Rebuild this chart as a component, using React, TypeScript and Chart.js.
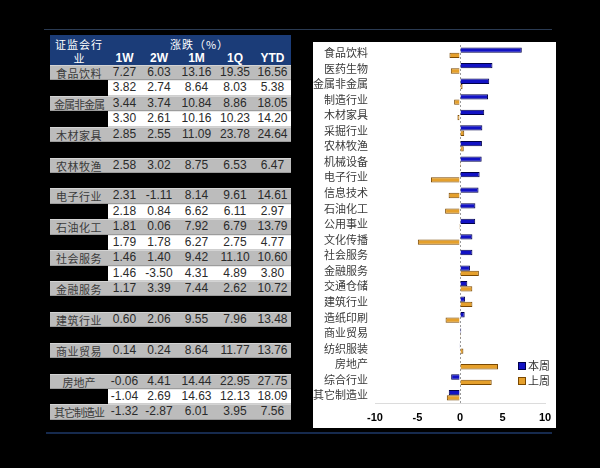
import React, { useEffect, useRef } from 'react';
import { Chart, registerables } from 'chart.js';

Chart.register(...registerables);

// ---- chart data ----
const categories = ['食品饮料', '医药生物', '金属非金属', '制造行业', '木材家具', '采掘行业', '农林牧渔', '机械设备', '电子行业', '信息技术', '石油化工', '公用事业', '文化传播', '社会服务', '金融服务', '交通仓储', '建筑行业', '造纸印刷', '商业贸易', '纺织服装', '房地产', '综合行业', '其它制造业'];
const thisWeek = [7.27, 3.82, 3.44, 3.30, 2.85, 2.63, 2.58, 2.55, 2.31, 2.18, 1.81, 1.79, 1.46, 1.46, 1.17, 0.86, 0.60, 0.55, 0.14, -0.03, -0.06, -1.04, -1.32];
const lastWeek = [-1.24, -1.08, 0.30, -0.69, -0.30, 0.50, 0.44, 0.12, -3.42, -1.34, -1.75, -0.01, -4.96, -0.06, 2.22, 1.45, 1.46, -1.70, 0.10, 0.40, 4.47, 3.73, -1.55];
const seriesNames = ['本周', '上周'];
const xTicks = [-10, -5, 0, 5, 10];

// ---- table data ----
const tableHeaderLabel = ['证监会行', '业'];
const tableHeaderGroup = '涨跌（%）';
const tableColumns = ['1W', '2W', '1M', '1Q', 'YTD'];
// row kinds: 'g' = gray row with label, 'w' = white row with hidden label, 'x' = hidden row
const rowKinds = ['g', 'w', 'g', 'w', 'g', 'x', 'g', 'x', 'g', 'w', 'g', 'w', 'g', 'w', 'g', 'x', 'g', 'x', 'g', 'x', 'g', 'w', 'g'];
const rowLabels = ['食品饮料', '', '金属非金属', '', '木材家具', '', '农林牧渔', '', '电子行业', '', '石油化工', '', '社会服务', '', '金融服务', '', '建筑行业', '', '商业贸易', '', '房地产', '', '其它制造业'];
const col1W = [7.27, 3.82, 3.44, 3.30, 2.85, null, 2.58, null, 2.31, 2.18, 1.81, 1.79, 1.46, 1.46, 1.17, null, 0.60, null, 0.14, null, -0.06, -1.04, -1.32];
const col2W = [6.03, 2.74, 3.74, 2.61, 2.55, null, 3.02, null, -1.11, 0.84, 0.06, 1.78, 1.40, -3.50, 3.39, null, 2.06, null, 0.24, null, 4.41, 2.69, -2.87];
const col1M = [13.16, 8.64, 10.84, 10.16, 11.09, null, 8.75, null, 8.14, 6.62, 7.92, 6.27, 9.42, 4.31, 7.44, null, 9.55, null, 8.64, null, 14.44, 14.63, 6.01];
const col1Q = [19.35, 8.03, 8.86, 10.23, 23.78, null, 6.53, null, 9.61, 6.11, 6.79, 2.75, 11.10, 4.89, 2.62, null, 7.96, null, 11.77, null, 22.95, 12.13, 3.95];
const colYTD = [16.56, 5.38, 18.05, 14.20, 24.64, null, 6.47, null, 14.61, 2.97, 13.79, 4.77, 10.60, 3.80, 10.72, null, 13.48, null, 13.76, null, 27.75, 18.09, 7.56];

const colBounds = [50, 108, 141, 177, 216, 254, 291];
const ROW_TOP = 65;
const ROW_H = 15.43;

const cjk = '"Noto Sans CJK SC", "Noto Sans", sans-serif';
const latin = '"Liberation Sans", Arial, sans-serif';

const legendPlugin = {
  id: 'customLegend',
  afterDraw(chart: any) {
    const { ctx, chartArea } = chart;
    chart.data.datasets.forEach((ds: any, i: number) => {
      const cx = chartArea.right - 23;
      const cy = chartArea.bottom - 37 + i * 15;
      ctx.save();
      ctx.fillStyle = ds.backgroundColor;
      ctx.strokeStyle = ds.borderColor;
      ctx.lineWidth = 1;
      ctx.fillRect(cx - 3.5, cy - 3.5, 7, 7);
      ctx.strokeRect(cx - 3.5, cy - 3.5, 7, 7);
      ctx.fillStyle = '#333';
      ctx.font = '11px ' + cjk;
      ctx.textBaseline = 'middle';
      ctx.textAlign = 'left';
      ctx.fillText(ds.label, cx + 6, cy);
      ctx.restore();
    });
  },
};

function BarChart() {
  const ref = useRef<HTMLCanvasElement | null>(null);
  useEffect(() => {
    if (!ref.current) return;
    const chart = new Chart(ref.current, {
      type: 'bar',
      data: {
        labels: categories,
        datasets: [
          {
            label: seriesNames[0],
            data: thisWeek,
            backgroundColor: '#1212c4',
            borderColor: '#00004a',
            borderWidth: 1,
            categoryPercentage: 0.68,
            barPercentage: 1,
          },
          {
            label: seriesNames[1],
            data: lastWeek,
            backgroundColor: '#e5a02c',
            borderColor: '#7a4800',
            borderWidth: 1,
            categoryPercentage: 0.68,
            barPercentage: 1,
          },
        ],
      },
      options: {
        indexAxis: 'y',
        animation: false,
        responsive: true,
        maintainAspectRatio: false,
        layout: { padding: { top: 3, right: 11, bottom: 0, left: 0 } },
        plugins: { legend: { display: false }, tooltip: { enabled: false } },
        scales: {
          x: {
            min: xTicks[0],
            max: xTicks[xTicks.length - 1],
            afterBuildTicks: (scale: any) => {
              scale.ticks = xTicks.map((v) => ({ value: v }));
            },
            afterFit: (s: any) => {
              s.paddingLeft = 0;
              s.paddingRight = 0;
              s.height = 25;
            },
            ticks: {
              color: '#000',
              font: { family: latin, size: 11, weight: 'bold' },
              padding: 8,
            },
            grid: {
              drawTicks: false,
              color: (c: any) => (c.tick && c.tick.value === 0 ? '#9a9a9a' : 'rgba(0,0,0,0)'),
              lineWidth: 1,
            },
            border: { display: true, color: '#dcdcdc', dash: [2, 2] },
          },
          y: {
            ticks: {
              color: '#3a3a3a',
              font: { family: cjk, size: 11 },
              padding: 7,
              autoSkip: false,
            },
            grid: { display: false, drawTicks: false },
            border: { display: false },
            afterFit: (s: any) => {
              s.width = 62;
              s.paddingTop = 0;
              s.paddingBottom = 0;
            },
          },
        },
      } as any,
      plugins: [legendPlugin],
    });
    return () => chart.destroy();
  }, []);
  return <canvas ref={ref} />;
}

const fmt = (v: number | null) => (v === null ? '' : v.toFixed(2));
const labelSpacing = (s: string) => (s.length >= 5 ? -1 : s.length === 4 ? 0.5 : 0);

function Table() {
  const cols = [col1W, col2W, col1M, col1Q, colYTD];
  return (
    <>
      <div
        style={{
          position: 'absolute',
          left: colBounds[0],
          top: 35,
          width: colBounds[6] - colBounds[0],
          height: ROW_TOP - 35,
          background: '#1b3c78',
        }}
      />
      <div style={{ position: 'absolute', left: colBounds[0], width: colBounds[1] - colBounds[0], top: 37, textAlign: 'center', color: '#fff', font: `11px ${cjk}`, letterSpacing: 1, lineHeight: '14px' }}>
        {tableHeaderLabel[0]}
      </div>
      <div style={{ position: 'absolute', left: colBounds[0], width: colBounds[1] - colBounds[0], top: 51, textAlign: 'center', color: '#fff', font: `11px ${cjk}`, lineHeight: '14px' }}>
        {tableHeaderLabel[1]}
      </div>
      <div style={{ position: 'absolute', left: colBounds[1], width: colBounds[6] - colBounds[1], top: 37, textAlign: 'center', color: '#fff', font: `11px ${cjk}`, letterSpacing: 1, lineHeight: '14px' }}>
        {tableHeaderGroup}
      </div>
      {tableColumns.map((c, j) => (
        <div
          key={c}
          style={{
            position: 'absolute',
            left: colBounds[j + 1],
            width: colBounds[j + 2] - colBounds[j + 1],
            top: 51,
            textAlign: 'center',
            color: '#fff',
            font: `bold 12px ${latin}`,
            lineHeight: '14px',
          }}
        >
          {c}
        </div>
      ))}
      {rowKinds.map((k, i) => {
        if (k === 'x') return null;
        const top = ROW_TOP + i * ROW_H;
        const gray = k === 'g';
        return (
          <div key={i}>
            <div
              style={{
                position: 'absolute',
                left: gray ? colBounds[0] : colBounds[1],
                width: gray ? colBounds[6] - colBounds[0] : colBounds[6] - colBounds[1],
                top: top,
                height: ROW_H,
                boxSizing: 'border-box',
                background: gray ? '#bcbcbc' : '#ffffff',
                borderTop: gray ? '1px solid #d4d4d4' : '1px solid #e8e8e8',
                borderBottom: gray ? '1px solid #9c9c9c' : '1px solid #cfcfcf',
              }}
            />
            {gray && (
              <div
                style={{
                  position: 'absolute',
                  left: colBounds[0],
                  width: colBounds[1] - colBounds[0],
                  top: top,
                  height: ROW_H,
                  lineHeight: ROW_H + 'px',
                  textAlign: 'center',
                  color: '#3a3a3a',
                  font: `11px ${cjk}`,
                  letterSpacing: labelSpacing(rowLabels[i]),
                  whiteSpace: 'nowrap',
                }}
              >
                {rowLabels[i]}
              </div>
            )}
            {cols.map((col, j) => (
              <div
                key={j}
                style={{
                  position: 'absolute',
                  left: colBounds[j + 1],
                  width: colBounds[j + 2] - colBounds[j + 1],
                  top: top,
                  height: ROW_H,
                  lineHeight: ROW_H + 'px',
                  textAlign: 'center',
                  color: '#2a2a2a',
                  font: `12px ${latin}`,
                }}
              >
                {fmt(col[i])}
              </div>
            ))}
          </div>
        );
      })}
    </>
  );
}

export default function App() {
  return (
    <div
      style={{
        position: 'fixed',
        left: 0,
        top: 0,
        width: 600,
        height: 468,
        background: '#000',
        overflow: 'hidden',
      }}
    >
      <div style={{ position: 'absolute', left: 44, top: 29, width: 508, height: 1, background: '#2a3a52' }} />
      <div style={{ position: 'absolute', left: 46, top: 432, width: 506, height: 2, background: '#162a4e' }} />
      <Table />
      <div
        style={{
          position: 'absolute',
          left: 313,
          top: 42,
          width: 243,
          height: 386,
          background: '#fff',
        }}
      >
        <BarChart />
      </div>
    </div>
  );
}
